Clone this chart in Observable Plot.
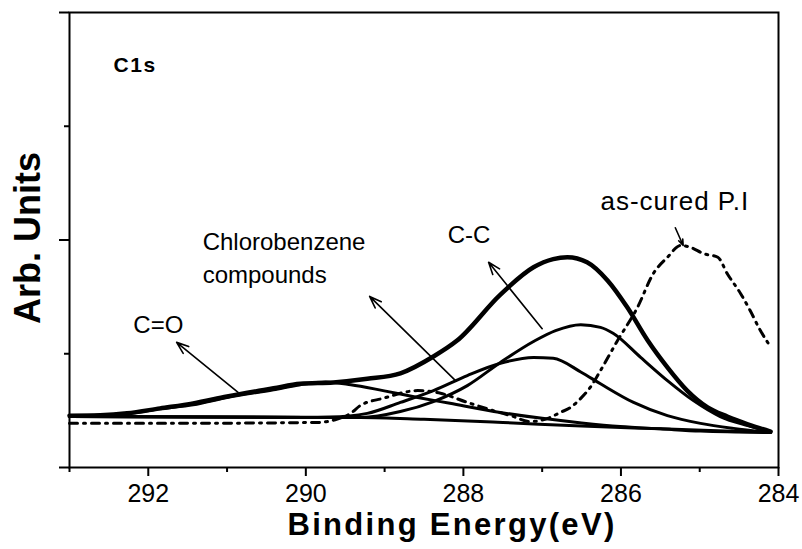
<!DOCTYPE html>
<html><head><meta charset="utf-8">
<script src="https://cdn.jsdelivr.net/npm/d3@7"></script>
<script src="https://cdn.jsdelivr.net/npm/@observablehq/plot@0.6"></script>
<style>body{margin:0;background:#fff;}</style>
</head><body><div id="chart"></div>
<script>
// Binding energy (eV) and intensity (arb. units, 0-100 scale)
const baselineE = [293, 290, 289.3, 288.5, 287.5, 286.5, 285.5, 284.5, 284.1];
const baselineV = [11.2, 11.0, 11.0, 10.6, 9.9, 9.1, 8.5, 7.9, 7.7];

const envelopeE = [293.0, 292.61, 292.27, 291.85, 291.43, 291.0, 290.41, 290.07, 289.65, 289.22, 288.8, 288.38, 288.08, 287.53, 287.11, 286.86, 286.68, 286.43, 286.17, 285.92, 285.66, 285.41, 285.16, 284.9, 284.65, 284.39, 284.1];
const envelopeV = [11.4, 11.5, 11.9, 13.0, 14.1, 15.6, 17.4, 18.4, 18.7, 19.5, 20.7, 24.4, 27.9, 38.0, 44.0, 45.8, 46.2, 45.1, 41.1, 35.2, 27.9, 22.0, 16.9, 13.2, 11.2, 9.5, 7.9];

const coE = [293.0, 292.27, 291.85, 291.43, 291.0, 290.41, 290.07, 289.75, 289.43, 289.02, 288.58, 288.17, 287.53, 287.0, 286.5, 286.01, 285.5, 284.99, 284.1];
const coV = [11.3, 11.8, 12.9, 13.8, 15.4, 17.1, 18.2, 18.8, 18.2, 16.9, 15.4, 14.1, 12.1, 10.8, 9.8, 9.0, 8.5, 8.0, 7.7];

const chloroE = [293.0, 290.0, 289.7, 289.22, 288.8, 288.38, 287.95, 287.53, 287.11, 286.86, 286.51, 286.26, 285.84, 285.41, 284.99, 284.57, 284.1];
const chloroV = [11.2, 11.05, 11.1, 11.9, 14.3, 16.9, 20.2, 22.9, 24.2, 24.0, 21.0, 18.4, 14.3, 11.4, 9.7, 8.6, 7.7];

const ccE = [293.0, 290.0, 289.3, 288.8, 288.38, 287.95, 287.53, 287.11, 286.83, 286.51, 286.26, 286.1, 285.75, 285.41, 285.08, 284.74, 284.39, 284.1];
const ccV = [11.2, 11.0, 11.0, 12.3, 14.5, 18.0, 23.1, 27.7, 30.1, 31.4, 30.8, 29.5, 24.2, 19.1, 14.7, 11.2, 9.2, 7.9];

const piE = [293.0, 291.85, 289.85, 289.63, 289.43, 289.31, 289.02, 288.58, 288.29, 287.95, 287.62, 287.4, 287.15, 286.93, 286.77, 286.64, 286.51, 286.39, 286.26, 286.05, 285.79, 285.59, 285.41, 285.24, 285.12, 284.95, 284.77, 284.65, 284.48, 284.36, 284.23, 284.13];
const piV = [9.7, 9.7, 9.9, 10.5, 11.9, 13.6, 15.2, 16.9, 16.3, 14.3, 12.5, 11.4, 10.1, 10.8, 12.1, 13.2, 15.2, 17.6, 21.3, 27.7, 35.2, 42.6, 46.2, 48.8, 48.4, 47.0, 46.2, 42.6, 38.2, 34.5, 30.1, 27.3];

const xMajor = [292, 290, 288, 286, 284];
const xMinor = [293, 291, 289, 287, 285];
const yMajor = [0, 50, 100];
const yMinor = [25, 75];

const noteText = ["C=O", "Chlorobenzene", "compounds", "C-C"];
const noteE = [292.19, 291.31, 291.31, 288.2];
const noteV = [31.2, 49.5, 42.2, 51.0];
const piLabel = ["as-cured P.I"];
const piLabelE = [286.26];
const piLabelV = [58.5];

// arrows: tail (E1,V1) -> tip (E2,V2)
const arrowE1 = [290.86, 288.10, 287.00, 285.31];
const arrowV1 = [16.5, 19.1, 30.5, 52.7];
const arrowE2 = [291.64, 289.19, 287.68, 285.21];
const arrowV2 = [27.5, 37.6, 45.1, 48.8];

const rows = (E, V) => E.map((e, i) => ({e, v: V[i]}));
const arrows = arrowE1.map((e, i) => ({x1: e, y1: arrowV1[i], x2: arrowE2[i], y2: arrowV2[i]}));
const notes = noteText.map((t, i) => ({t, e: noteE[i], v: noteV[i]}));

const lineOpts = {x: "e", y: "v", stroke: "#000", curve: "monotone-x"};

const chart = Plot.plot({
  width: 802, height: 549,
  marginLeft: 69, marginRight: 24, marginTop: 12, marginBottom: 82,
  style: {fontFamily: "'Liberation Sans', Arial, sans-serif", background: "#fff", color: "#000"},
  x: {domain: [293, 284]},
  y: {domain: [0, 100]},
  marks: [
    Plot.frame({stroke: "#000", strokeWidth: 2}),
    Plot.axisX({ticks: xMajor, tickSize: 9, tickPadding: 8, fontSize: 25, strokeWidth: 2, label: null, tickFormat: d => String(d)}),
    Plot.axisX({ticks: xMinor, tickSize: 5, strokeWidth: 2, label: null, tickFormat: () => ""}),
    Plot.axisY({ticks: yMajor, tickSize: 10, strokeWidth: 2, label: null, tickFormat: () => ""}),
    Plot.axisY({ticks: yMinor, tickSize: 5, strokeWidth: 2, label: null, tickFormat: () => ""}),
    Plot.line(rows(baselineE, baselineV), {...lineOpts, strokeWidth: 3}),
    Plot.line(rows(coE, coV), {...lineOpts, strokeWidth: 3}),
    Plot.line(rows(chloroE, chloroV), {...lineOpts, strokeWidth: 3}),
    Plot.line(rows(ccE, ccV), {...lineOpts, strokeWidth: 3}),
    Plot.line(rows(piE, piV), {...lineOpts, strokeWidth: 3, strokeDasharray: "8,6,2,6"}),
    Plot.line(rows(envelopeE, envelopeV), {...lineOpts, strokeWidth: 4.5}),
    Plot.arrow(arrows, {x1: "x1", y1: "y1", x2: "x2", y2: "y2", stroke: "#000", strokeWidth: 1.6, headLength: 12, headAngle: 40}),
    Plot.text(notes, {x: "e", y: "v", text: "t", textAnchor: "start", fontSize: 24, fill: "#000"}),
    Plot.text(piLabel, {x: piLabelE, y: piLabelV, textAnchor: "start", fontSize: 26, fill: "#000"}),
    Plot.text(["C1s"], {x: [292.44], y: [88.4], textAnchor: "start", fontSize: 21, fontWeight: "bold", fill: "#000"}),
    Plot.text(["Binding Energy(eV)"], {frameAnchor: "bottom", lineAnchor: "middle", textAnchor: "middle", dy: 58, dx: 28, fontSize: 31, fontWeight: "bold", fill: "#000"}),
    Plot.text(["Arb. Units"], {frameAnchor: "left", lineAnchor: "middle", textAnchor: "middle", rotate: -90, dx: -41, dy: -2, fontSize: 36, fontWeight: "bold", fill: "#000"})
  ]
});
// the reference's lettering is slightly wider than the font's natural spacing
const spacing = {"Binding Energy(eV)": 2.3, "as-cured P.I": 1, "C1s": 1.5};
d3.select(chart).selectAll("text").each(function() {
  const s = spacing[this.textContent];
  if (s) this.setAttribute("letter-spacing", s);
});
document.getElementById("chart").appendChild(chart);
</script>
</body></html>
